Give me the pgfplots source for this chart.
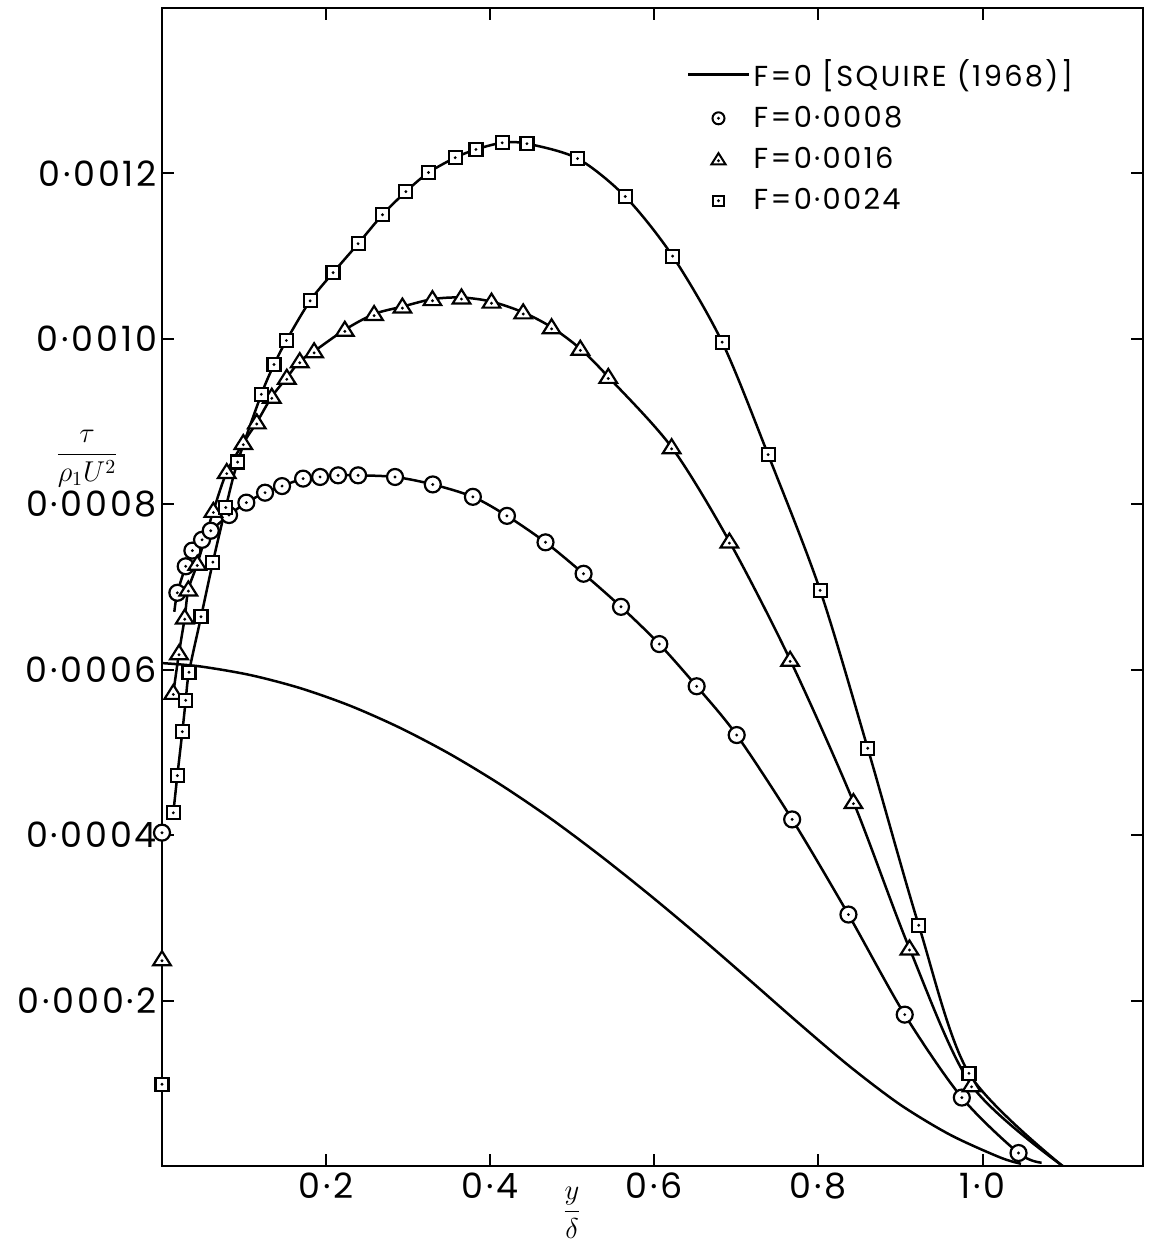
\documentclass[border=0pt]{standalone}
\usepackage{pgfplots}
\pgfplotsset{compat=1.18}
\usepackage{pgfplotstable}
\usepackage{fontspec}
\setmainfont{Poppins}[LetterSpace=8]
\usetikzlibrary{calc}

\pgfdeclareplotmark{codot}{%
  \pgfpathcircle{\pgfpointorigin}{\pgfplotmarksize}%
  \pgfusepathqfillstroke
  \pgfscope\pgfsetfillcolor{black}%
  \pgfpathcircle{\pgfpointorigin}{0.8bp}\pgfusepathqfill\endpgfscope}
\pgfdeclareplotmark{tridot}{%
  \pgfpathmoveto{\pgfpoint{0pt}{1.0\pgfplotmarksize}}%
  \pgfpathlineto{\pgfpoint{-1.1\pgfplotmarksize}{-0.75\pgfplotmarksize}}%
  \pgfpathlineto{\pgfpoint{1.1\pgfplotmarksize}{-0.75\pgfplotmarksize}}%
  \pgfpathclose
  \pgfusepathqfillstroke
  \pgfscope\pgfsetfillcolor{black}%
  \pgfpathcircle{\pgfpoint{0pt}{-0.2\pgfplotmarksize}}{0.8bp}\pgfusepathqfill\endpgfscope}
\pgfdeclareplotmark{sqdot}{%
  \pgfpathrectangle{\pgfpoint{-\pgfplotmarksize}{-\pgfplotmarksize}}{\pgfpoint{2\pgfplotmarksize}{2\pgfplotmarksize}}%
  \pgfusepathqfillstroke
  \pgfscope\pgfsetfillcolor{black}%
  \pgfpathcircle{\pgfpointorigin}{0.8bp}\pgfusepathqfill\endpgfscope}

\pgfplotsset{
  mc/.style={mark=codot, mark size=4bp, mark options={fill=white, line width=1.1bp, solid}},
  mt/.style={mark=tridot, mark size=4bp, mark options={fill=white, line width=1.1bp, solid}},
  ms/.style={mark=sqdot, mark size=3.25bp, mark options={fill=white, line width=1.1bp, solid}},
}

% F = 0 (Squire 1968)
\pgfplotstableread{
x y
0.0000 0.000608
0.0463 0.000604
0.1073 0.0005936
0.1682 0.0005778
0.2291 0.0005565
0.2901 0.0005297
0.3510 0.0004980
0.4119 0.0004615
0.4729 0.0004206
0.5338 0.0003755
0.5948 0.0003273
0.6557 0.0002768
0.7166 0.0002244
0.7776 0.0001713
0.8385 0.0001201
0.8995 0.0000743
0.9604 0.0000378
1.0213 0.0000104
1.0469 0.0000027
}\squire

% F = 0.0008 (first and last rows: curve only)
\pgfplotstableread{
x y
0.0150 0.000670
0.0187 0.000693
0.0289 0.000725
0.0370 0.000744
0.0488 0.000757
0.0594 0.000768
0.0817 0.000787
0.1028 0.000802
0.1256 0.000814
0.1463 0.000822
0.1720 0.000831
0.1927 0.000833
0.2146 0.000835
0.2390 0.000835
0.2840 0.000833
0.3300 0.000824
0.3789 0.000809
0.4204 0.000786
0.4674 0.000754
0.5138 0.000716
0.5594 0.000676
0.6061 0.000631
0.6516 0.000580
0.7004 0.000521
0.7680 0.000419
0.8366 0.000304
0.9052 0.000183
0.9748 0.0000827
1.0439 0.0000157
1.0720 0.0000040
}\fa

% F = 0.0016 (last row: curve only)
\pgfplotstableread{
x y
0.0138 0.000572
0.0207 0.000620
0.0277 0.000663
0.0321 0.000697
0.0430 0.000728
0.0626 0.000792
0.0789 0.000839
0.0991 0.000874
0.1155 0.000899
0.1338 0.000930
0.1521 0.000953
0.1679 0.000973
0.1854 0.000985
0.2228 0.001011
0.2585 0.001030
0.2930 0.001039
0.3296 0.001048
0.3650 0.001050
0.4016 0.001045
0.4402 0.001032
0.4748 0.001014
0.5098 0.000988
0.5439 0.000954
0.6211 0.000869
0.6915 0.000755
0.7655 0.000612
0.8427 0.000440
0.9110 0.000263
0.9866 0.0000976
1.0976 0.0000000
}\fb

% F = 0.0024 (last row: curve only)
\pgfplotstableread{
x y
0.0138 0.000427
0.0187 0.000472
0.0248 0.000525
0.0289 0.000563
0.0329 0.000597
0.0476 0.000664
0.0620 0.000730
0.0777 0.000796
0.0921 0.000851
0.1211 0.000933
0.1366 0.000969
0.1516 0.000998
0.1805 0.001046
0.2085 0.001080
0.2390 0.001115
0.2687 0.001150
0.2972 0.001178
0.3248 0.001201
0.3573 0.001219
0.3826 0.001229
0.4146 0.001237
0.4448 0.001236
0.5065 0.001218
0.5646 0.001172
0.6223 0.001100
0.6827 0.000996
0.7387 0.000860
0.8021 0.000696
0.8601 0.000505
0.9223 0.000291
0.9835 0.000112
1.0976 0.0000000
}\fc

\begin{document}
\begin{tikzpicture}
\begin{axis}[
  scale only axis, width=490.5bp, height=579bp,
  xmin=0, xmax=1.1956, ymin=0, ymax=0.0014,
  axis line style={line width=1bp},
  tick style={line width=1bp, black},
  tick align=inside, major tick length=6bp,
  xtick={0.2,0.4,0.6,0.8,1.0},
  xticklabels={0·2,0·4,0·6,0·8,1·0},
  ytick={0.0002,0.0004,0.0006,0.0008,0.0010,0.0012},
  yticklabels={0·000·2,0·0004,0·0006,0·0008,0·0010,0·0012},
  scaled y ticks=false, scaled x ticks=false,
  ticklabel style={font=\fontsize{17.5}{20}\selectfont},
  yticklabel style={xshift=1bp},
  xlabel={$\displaystyle\frac{y}{\delta}$},
  ylabel={$\displaystyle\frac{\tau}{\rho_1 U^2}$},
  every axis x label/.style={at={(rel axis cs:0.418,0)}, anchor=center, yshift=-23.5bp, font=\fontsize{15}{18}\selectfont},
  every axis y label/.style={at={(rel axis cs:0,0.611)}, anchor=center, xshift=-37.5bp, font=\fontsize{14}{17}\selectfont},
  legend style={at={(0.535,0.9595)}, anchor=north west, draw=none, fill=none, inner sep=0pt,
    font=\fontsize{14.5}{16}\selectfont, row sep=4.5bp, cells={anchor=west}},
  legend image code/.code={\draw[mark repeat=2,mark phase=2,#1] plot coordinates {(0bp,0bp) (15bp,0bp) (30bp,0bp)};},
  every axis plot/.append style={line width=1.25bp, black},
]
\addplot[smooth, no marks] table {\squire};
\addlegendentry{F=0 [SQUIRE (1968)]}

\addplot[smooth, no marks, forget plot] table {\fa};
\addplot[smooth, no marks, forget plot] table {\fb};
\addplot[smooth, no marks, forget plot] table {\fc};

\addplot[only marks, mc, mark indices={2,...,29}, forget plot] table {\fa};
\addplot[only marks, mt, mark indices={1,...,29}, forget plot] table {\fb};
\addplot[only marks, ms, mark indices={1,...,31}, forget plot] table {\fc};

% values at the wall
\addplot[only marks, mc, forget plot] coordinates {(0,0.000403)};
\addplot[only marks, mt, forget plot] coordinates {(0,0.000250)};
\addplot[only marks, ms, forget plot] coordinates {(0,0.0000989)};

\addlegendimage{only marks, mark=codot, mark size=3bp, mark options={fill=white, line width=1bp}}
\addlegendentry{F=0·0008}
\addlegendimage{only marks, mark=tridot, mark size=3.2bp, mark options={fill=white, line width=1bp}}
\addlegendentry{F=0·0016}
\addlegendimage{only marks, mark=sqdot, mark size=2.6bp, mark options={fill=white, line width=1bp}}
\addlegendentry{F=0·0024}

\coordinate (SW) at (rel axis cs:0,0);
\coordinate (NE) at (rel axis cs:1,1);
\end{axis}
\pgfresetboundingbox
\path ($(SW)+(-81bp,-39bp)$) rectangle ($(NE)+(4.5bp,4bp)$);
\end{tikzpicture}
\end{document}
